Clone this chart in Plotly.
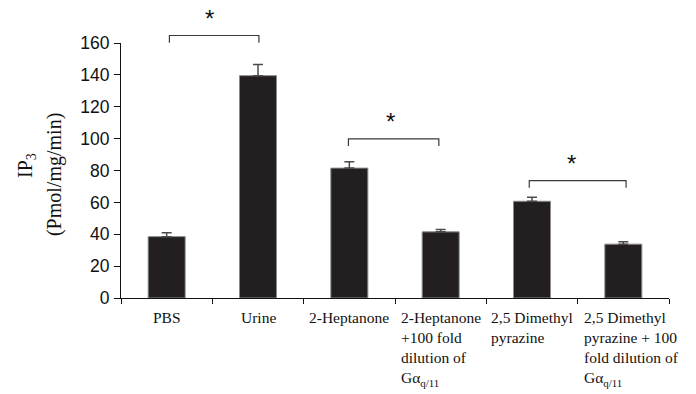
import plotly.graph_objects as go

categories = ["PBS", "Urine", "2-Heptanone",
              "2-Heptanone<br>+100 fold<br>dilution of<br>Gα<sub>q/11</sub>",
              "2,5 Dimethyl<br>pyrazine",
              "2,5 Dimethyl<br>pyrazine + 100<br>fold dilution of<br>Gα<sub>q/11</sub>"]
label_shift = [0, 0, 0, 0, 0, 8]
values = [38.5, 139.5, 81.5, 41.5, 60.7, 33.8]
errors = [2.5, 7.0, 4.0, 1.5, 2.5, 1.5]
y_ticks = [0, 20, 40, 60, 80, 100, 120, 140, 160]
y_title_lines = ["IP<sub>3</sub>", "(Pmol/mg/min)"]

# significance brackets (category-axis positions and y values)
bracket_x0 = [0.03, 1.99, 3.97]
bracket_x1 = [1.01, 2.98, 5.03]
bracket_y = [164.7, 99.9, 73.6]
bracket_leg = 4.5
star_x = [0.474, 2.453, 4.435]
star_y = [177.6, 113.1, 86.8]

YMAX = 160
xs = list(range(len(categories)))

fig = go.Figure()
fig.add_trace(go.Bar(
    x=xs, y=values, width=0.405,
    marker=dict(color="#231f20", line=dict(color="#8a8a8a", width=1)),
    error_y=dict(type="data", array=errors, arrayminus=[0] * len(errors),
                 symmetric=False, color="#4a4a4a", thickness=1.5, width=5),
    showlegend=False, hoverinfo="skip",
))

shapes = []
for x0, x1, y in zip(bracket_x0, bracket_x1, bracket_y):
    shapes.append(dict(
        type="path", xref="x", yref="paper",
        path=f"M {x0},{(y - bracket_leg) / YMAX} L {x0},{y / YMAX} L {x1},{y / YMAX} L {x1},{(y - bracket_leg) / YMAX}",
        line=dict(color="#3a3a3a", width=1.2),
    ))

annotations = []
for x, y in zip(star_x, star_y):
    annotations.append(dict(
        x=x, y=y / YMAX, xref="x", yref="paper", text="*", showarrow=False,
        font=dict(family="Liberation Sans", size=24, color="#111"),
        xanchor="center", yanchor="middle", yshift=-4,
    ))
for i, c in enumerate(categories):
    annotations.append(dict(
        x=i, y=0, xref="x", yref="paper", text=c, showarrow=False,
        font=dict(family="Liberation Serif", size=15.5, color="#111"),
        xanchor="center", yanchor="top", align="left", yshift=-9,
        xshift=label_shift[i],
    ))
# y-axis title, two rotated lines
for txt, px, py in zip(y_title_lines, [-0.1715, -0.1223], [0.518, 0.486]):
    annotations.append(dict(
        x=px, y=py, xref="paper", yref="paper", text=txt, showarrow=False,
        textangle=-90, xanchor="center", yanchor="middle",
        font=dict(family="Liberation Serif", size=20, color="#111"),
    ))

fig.update_layout(
    width=696, height=394,
    margin=dict(l=121, r=27, t=43, b=96),
    paper_bgcolor="white", plot_bgcolor="white",
    shapes=shapes, annotations=annotations,
    xaxis=dict(range=[-0.5, 5.5], tickmode="linear", tick0=-0.5, dtick=1,
               showticklabels=False, ticks="outside", ticklen=5,
               tickcolor="#111", showline=True, linecolor="#111",
               linewidth=1.2, showgrid=False, zeroline=False),
    yaxis=dict(range=[0, YMAX], tickvals=y_ticks, ticks="outside",
               ticklen=6, tickcolor="#111", showline=True, linecolor="#111",
               linewidth=1.2, showgrid=False, zeroline=False,
               ticklabelstandoff=1,
               tickfont=dict(family="Liberation Sans", size=17.5, color="#111")),
)

fig.write_html("out.html")
